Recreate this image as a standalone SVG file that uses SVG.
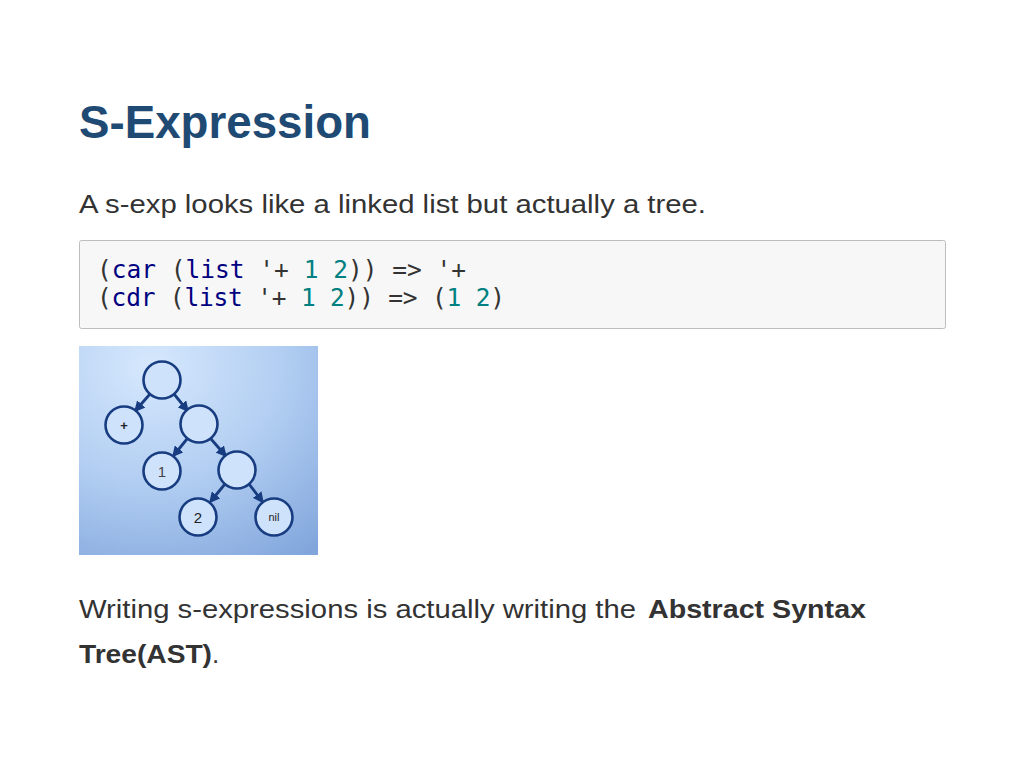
<svg xmlns="http://www.w3.org/2000/svg" width="1024" height="769" viewBox="0 0 1024 769">
<style>
.t{font-family:"Liberation Sans",Arial,sans-serif;fill:#333}
.code{font-family:"DejaVu Sans Mono",monospace;font-size:24.5px;fill:#333}
.kw{fill:#000080}
.num{fill:#008080}
.nd{fill:#cfe2fb;stroke:#173c80;stroke-width:2.6}
.lbl{font-family:"Liberation Sans",Arial,sans-serif;fill:#222;text-anchor:middle}
.ed{stroke:#173c80;stroke-width:2.8;fill:none;marker-end:url(#ah)}
</style>
<defs>
<radialGradient id="bg" cx="0.3" cy="0.1" r="1.1" fx="0.3" fy="0.1">
<stop offset="0" stop-color="#d6e8fd"/>
<stop offset="0.5" stop-color="#b2cef2"/>
<stop offset="1" stop-color="#82a6dc"/>
</radialGradient>
<marker id="ah" markerWidth="11" markerHeight="11" refX="8" refY="5.5" orient="auto" markerUnits="userSpaceOnUse">
<path d="M0,0 L11,5.5 L0,11 Z" fill="#173c80"/>
</marker>
</defs>
<rect width="1024" height="769" fill="#fff"/>
<g id="title"><text class="t" x="79" y="138" font-size="45.7" font-weight="bold" style="fill:#1f4a73">S-Expression</text></g>
<g id="intro"><text class="t" x="79" y="213" font-size="25" textLength="627" lengthAdjust="spacingAndGlyphs">A s-exp looks like a linked list but actually a tree.</text></g>
<g id="codebox">
<rect x="79.5" y="240.5" width="866" height="88" rx="2" fill="#f7f7f7" stroke="#bdbdbd"/>
<text class="code" x="97" y="278" textLength="369">(<tspan class="kw">car</tspan> (<tspan class="kw">list</tspan> '+ <tspan class="num">1</tspan> <tspan class="num">2</tspan>)) =&gt; '+</text>
<text class="code" x="97" y="306" textLength="408">(<tspan class="kw">cdr</tspan> (<tspan class="kw">list</tspan> '+ <tspan class="num">1</tspan> <tspan class="num">2</tspan>)) =&gt; (<tspan class="num">1</tspan> <tspan class="num">2</tspan>)</text>
</g>
<g id="tree-bg"><rect x="79" y="346" width="239" height="209" fill="url(#bg)"/></g>
<g id="connectors">
<line class="ed" x1="150" y1="394" x2="136" y2="410"/>
<line class="ed" x1="174" y1="394" x2="187" y2="410"/>
<line class="ed" x1="187" y1="439" x2="174" y2="455"/>
<line class="ed" x1="211" y1="439" x2="225" y2="455"/>
<line class="ed" x1="225" y1="484" x2="211" y2="501"/>
<line class="ed" x1="249" y1="484" x2="262" y2="501"/>
</g>
<g id="n-root"><circle class="nd" cx="162" cy="380" r="18.5"/></g>
<g id="n-plus"><circle class="nd" cx="124" cy="425" r="18.5"/><text class="lbl" x="124" y="430" font-size="13" font-weight="bold">+</text></g>
<g id="n-mid"><circle class="nd" cx="199" cy="424" r="18.5"/></g>
<g id="n-one"><circle class="nd" cx="162" cy="471" r="18.5"/><text class="lbl" x="162" y="477" font-size="15" style="fill:#444">1</text></g>
<g id="n-low"><circle class="nd" cx="237" cy="470" r="18.5"/></g>
<g id="n-two"><circle class="nd" cx="198" cy="517" r="18.5"/><text class="lbl" x="198" y="523" font-size="15">2</text></g>
<g id="n-nil"><circle class="nd" cx="274" cy="517" r="18.5"/><text class="lbl" x="274" y="521" font-size="11">nil</text></g>
<g id="outro">
<text class="t" x="79" y="618" font-size="25" textLength="557" lengthAdjust="spacingAndGlyphs">Writing s-expressions is actually writing the</text>
<text class="t" x="648" y="618" font-size="26" font-weight="bold" textLength="218" lengthAdjust="spacingAndGlyphs">Abstract Syntax</text>
<text class="t" x="79" y="663" font-size="26" font-weight="bold" textLength="133" lengthAdjust="spacingAndGlyphs">Tree(AST)</text>
<text class="t" x="212" y="663" font-size="26">.</text>
</g>
</svg>
